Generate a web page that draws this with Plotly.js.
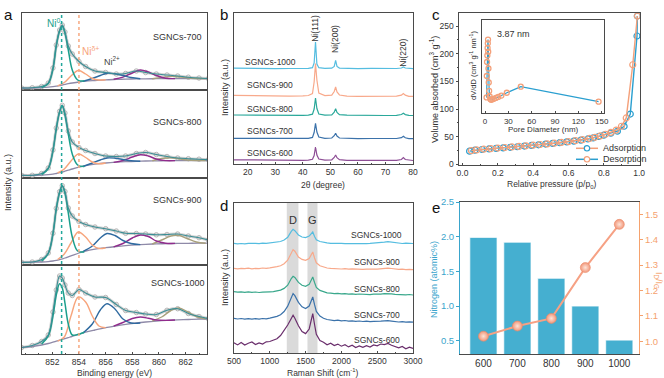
<!DOCTYPE html>
<html><head><meta charset="utf-8">
<script src="https://cdn.plot.ly/plotly-3.0.1.min.js"></script>
<style>html,body{margin:0;padding:0;background:#fff}#chart{width:664px;height:378px}</style>
</head><body><div id="chart"></div>
<script>
// ================= DATA =================
const sampleNames = ['SGNCs-600','SGNCs-700','SGNCs-800','SGNCs-900','SGNCs-1000'];

// ---- (a) Ni 2p XPS ----
const xpsTicks = [852, 854, 856, 858, 860, 862];
const xpsRefEV = [852.7, 854.0];
const xpsEV = [849.7, 850.5, 851.2, 851.7, 852.05, 852.3, 852.55, 852.75, 852.95, 853.2, 853.5, 854.0, 854.5, 855.2, 856.0, 856.8, 857.5, 858.3, 859.0, 859.8, 860.6, 861.4, 862.2, 863.0, 863.7];
const env700 = [2, 2.3, 3.5, 7, 22, 45, 60, 65, 58, 44, 36, 28.5, 23.5, 19, 17.5, 16, 16.5, 19, 17.5, 16, 15, 14, 12.8, 12, 11.5];
const bg700  = [2, 2, 2.3, 2.8, 3.3, 3.8, 4.5, 5, 5.6, 6.3, 7, 8, 8.8, 9.5, 10.2, 10.6, 10.9, 11.1, 11.2, 11.3, 11.4, 11.4, 11.4, 11.4, 11.4];
const env800 = [2.7, 2.7, 4.5, 10, 28, 50, 66.7, 72.7, 65, 47, 36, 30.5, 27.5, 24.5, 22, 21.5, 22, 24.5, 25.5, 23.5, 21.5, 20, 19.3, 18.8, 18.3];
const bg800  = [2.7, 2.7, 2.9, 3.3, 3.8, 4.5, 5.3, 6, 6.8, 7.8, 9, 10.8, 12.3, 13.8, 15, 15.8, 16.3, 16.7, 17, 17.2, 17.3, 17.4, 17.5, 17.5, 17.5];
const env900 = [2.7, 3.0, 5.5, 12, 31.7, 56.7, 73.3, 79.3, 73.5, 57, 49, 43.5, 40.5, 38, 36.3, 34, 31.7, 31.5, 31, 30.2, 30.5, 31, 29, 27.3, 25];
const bg900  = [2.7, 2.8, 3.0, 3.4, 4, 4.6, 5.4, 6.2, 7, 8.2, 9.6, 12, 14, 15.8, 17.3, 18.5, 19.4, 20.2, 20.7, 21.1, 21.4, 21.6, 21.7, 21.8, 21.8];
const env1000 = [6.5, 8.5, 12.5, 19, 42, 64, 78, 76, 69, 61, 58.5, 64.5, 61, 57, 56.5, 49.5, 43.5, 41.5, 40, 39.5, 43.7, 45.3, 40.5, 37.5, 35.3];
const bg1000  = [6.5, 7.5, 9, 10.5, 11.8, 12.8, 13.8, 14.6, 15.4, 16.4, 17.6, 19.8, 21.8, 24, 26.3, 28.2, 29.6, 31, 32, 32.9, 33.6, 34.1, 34.5, 34.8, 35];

const ni0EV = [851.2, 851.7, 852.05, 852.3, 852.55, 852.75, 852.95, 853.2, 853.5, 853.9, 854.4];
const ni0Y700  = [2.5, 6.5, 21, 44, 59, 64, 57, 40, 20, 10, 9];
const ni0Y800  = [3.5, 9.5, 27, 49, 66, 72, 63, 44, 24, 13, 11.5];
const ni0Y900  = [4, 11.5, 31, 56, 72.5, 79, 72, 52, 28, 14, 13];
const ni0Y1000 = [10, 18, 38, 59, 70.3, 66, 51, 30, 19, 19.5, 21.8];

const nidEV = [852.4, 852.9, 853.4, 853.95, 854.5, 855.0, 855.5, 856.0];
const nidY700  = [4.2, 7.5, 14, 19.5, 16, 11.5, 10, 10.2];
const nidY800  = [5, 9, 17, 24, 20.5, 16, 14.2, 15];
const nidY900  = [5.5, 11, 22, 33, 28, 20, 16.5, 17.3];
const nidY1000 = [12.8, 17, 38, 57, 52, 38, 28, 26.3];

const ni2EV = [854.3, 855.0, 855.6, 856.1, 856.7, 857.3, 857.9, 858.6];
const ni2Y700  = [8.6, 11.5, 14.5, 16.8, 16.3, 14.5, 12.5, 11.2];
const ni2Y800  = [11.5, 15, 18, 20, 19.8, 18.5, 17.2, 16.7];
const ni2Y900  = [13.5, 19, 27, 31.5, 29.5, 24.5, 21.5, 20.4];
const ni2Y1000 = [21, 30, 44, 50.3, 45, 35, 31, 31];

const satEV = [856.6, 857.3, 858.0, 858.6, 859.2, 859.8, 860.5, 861.2];
const satY700  = [10.8, 12.8, 17, 20, 18, 14.5, 11.8, 11.4];
const satY800  = [15.6, 17.5, 21, 23.3, 22, 19, 17.4, 17.4];
const satY900  = [18.2, 21.5, 27, 30, 28.5, 24, 21.8, 21.6];
const satY1000 = [27.8, 31.5, 35.5, 37, 35.8, 34, 33.6, 34];

const sat2EV = [859.5, 860.2, 860.9, 861.5, 862.1, 862.8, 863.5];
const sat2Y700  = [11.3, 12.6, 13.6, 13.2, 12.2, 11.5, 11.4];
const sat2Y800  = [17.3, 19.5, 20.3, 19.2, 18, 17.5, 17.5];
const sat2Y900  = [21, 25, 29, 29.5, 26.5, 23, 21.8];
const sat2Y1000 = [33, 37, 43.5, 46, 42.5, 37.5, 35.2];

// ---- (b) XRD ----
const xrdPeakLabels = ['Ni(111)', 'Ni(200)', 'Ni(220)'];
const xrdPeakPos = [44.6, 51.9, 76.5];
const xrdX = [15, 20, 25, 30, 35, 40, 42, 43.5, 44.1, 44.6, 45.1, 45.8, 48, 50.5, 51.4, 51.9, 52.4, 53.3, 56, 60, 65, 70, 74, 75.8, 76.5, 77.2, 78.5, 80];
const xrd600  = [4.2, 4.0, 4.3, 3.9, 3.8, 3.7, 3.9, 4.7, 8.5, 17, 9, 5, 3.9, 4.2, 6.5, 9, 6.3, 4.3, 3.7, 3.6, 3.7, 3.5, 3.7, 4.5, 6.5, 4.5, 3.7, 3.5];
const xrd700  = [25.6, 25.5, 25.7, 25.4, 25.6, 25.5, 25.7, 26.6, 31.5, 40.7, 32, 27, 25.7, 26, 28.3, 30.7, 28, 26, 25.5, 25.4, 25.5, 25.3, 25.5, 26.3, 27.7, 26.2, 25.4, 25.3];
const xrd800  = [49.0, 48.8, 49.0, 48.6, 48.8, 48.7, 48.9, 49.8, 55, 66, 55.5, 50, 48.9, 49.2, 51.8, 55.4, 51.5, 49.3, 48.8, 48.6, 48.7, 48.5, 48.7, 49.5, 50.7, 49.4, 48.6, 48.5];
const xrd900  = [68.6, 68.3, 68.5, 68.0, 67.9, 68.1, 68.5, 70.5, 82, 100.4, 84, 71, 68.4, 68.8, 72.5, 77, 72, 69, 67.8, 67.6, 67.7, 67.5, 67.8, 68.8, 70.4, 68.9, 67.7, 67.6];
const xrd1000 = [95.8, 95.5, 95.6, 95.3, 95.5, 95.4, 95.6, 96.3, 101, 122, 100, 96.3, 95.7, 95.8, 97.5, 103.7, 97.5, 95.9, 95.5, 95.4, 95.6, 95.3, 95.5, 96, 97, 96, 95.5, 95.4];

// ---- (c) N2 isotherm + pore size ----
const adsP = [0.04, 0.07, 0.11, 0.15, 0.19, 0.23, 0.27, 0.31, 0.35, 0.39, 0.43, 0.47, 0.51, 0.55, 0.59, 0.63, 0.67, 0.71, 0.74, 0.77, 0.80, 0.84, 0.877, 0.915, 0.95, 0.988, 0.99];
const adsV = [24, 25.8, 27, 28, 29, 30, 31, 32, 33.2, 34.3, 35.5, 36.8, 38, 39.3, 40.7, 42.2, 44, 46, 48, 50.5, 53, 56.5, 60, 69, 91, 232, 268];
const desP = [0.99, 0.964, 0.927, 0.9, 0.87, 0.84, 0.81, 0.78, 0.75, 0.72, 0.68, 0.64, 0.6, 0.56, 0.52, 0.48, 0.44, 0.4, 0.36, 0.32, 0.28, 0.24, 0.2, 0.16, 0.12, 0.08, 0.05];
const desV = [268, 180, 84, 69, 62, 58, 54.5, 51.5, 49, 47, 44.8, 43, 41.3, 39.8, 38.4, 37.2, 36, 34.8, 33.7, 32.6, 31.6, 30.6, 29.6, 28.6, 27.5, 26.3, 25];
const poreD = [2.0, 2.3, 2.6, 3.0, 3.3, 3.6, 3.87, 4.1, 4.4, 4.8, 5.3, 6.0, 7.0, 8.0, 9.5, 11.5, 14, 17, 21, 28, 46, 146];
const dVdD  = [17, 40, 55, 62, 70, 75, 79, 66, 48, 33, 24, 18, 15, 14.5, 15, 15.5, 16.5, 17.5, 19, 22, 28.5, 12.5];
const isoLegend = ['Adsorption', 'Desorption'];

// ---- (d) Raman ----
const ramanBands = [[1237, 1400], [1526, 1666]];
const ramanBandLabels = ['D', 'G'];
const ramanBandPos = [1320, 1600];
const ramanX = [500,550,600,650,700,750,800,850,900,950,1000,1050,1100,1150,1200,1250,1300,1325,1350,1400,1450,1500,1550,1580,1600,1625,1650,1700,1750,1800,1850,1900,1950,2000,2050,2100,2150,2200,2250,2300,2350,2400,2450,2500,2550,2600,2650,2700,2750,2800,2850,2900,2950,3000];
const raman1000 = [109.6,109.1,109.5,109.2,109.7,109.3,109.6,109.4,109.9,109.6,110.1,110.2,110.8,111.5,113.0,115.7,121.6,123.7,122.3,118.0,116.0,115.4,116.9,119.4,121.0,116.5,113.2,111.5,110.6,110.1,109.7,109.9,109.4,109.7,109.3,109.6,109.2,109.5,109.3,109.7,109.4,109.6,109.8,110.0,110.4,110.9,111.4,110.8,110.2,109.7,109.5,109.8,109.3,109.5];
const raman900 = [84.6,84.1,84.7,84.3,84.8,84.2,84.6,84.4,85.0,84.7,85.2,85.5,86.4,87.2,89.3,92.8,100.5,103.4,101.8,96.0,93.6,92.7,94.5,98.2,101.0,95.0,90.2,87.3,85.9,85.0,84.6,84.2,84.5,84.0,84.3,83.8,84.1,83.7,84.0,83.6,83.9,83.5,83.8,83.9,84.3,84.6,84.9,84.5,84.0,83.6,83.9,83.4,83.7,83.3];
const raman800 = [61.3,60.8,61.2,60.7,61.1,60.6,61.0,60.5,60.9,60.7,61.2,61.3,62.0,62.9,64.6,67.8,74.5,76.7,75.5,70.6,67.8,66.7,68.6,72.7,76.0,70.5,65.6,62.6,61.0,60.1,59.8,59.3,59.6,59.1,59.4,58.9,59.2,58.7,59.0,58.6,58.9,58.4,58.8,58.5,58.9,59.3,59.5,59.1,58.6,58.3,58.7,58.2,58.5,58.0];
const raman700 = [34.6,34.0,34.5,33.9,34.4,33.8,34.3,33.9,34.5,34.2,34.9,35.4,36.6,38.2,41.5,46.8,56.3,59.4,57.4,50.6,46.2,44.4,47.0,52.5,56.0,48.3,41.6,37.0,34.8,33.5,32.9,32.4,32.8,32.1,32.5,31.8,32.2,31.6,32.0,31.5,31.9,31.3,31.7,31.4,31.8,32.1,32.4,31.9,31.4,31.0,31.4,30.8,31.2,30.9];
const raman600 = [10.2,8.1,10.6,7.9,9.8,11.0,8.4,10.1,9.0,11.2,11.5,13.0,14.2,17.5,22.6,28.0,34.5,37.7,34.8,27.2,21.5,19.4,24.0,33.5,39.4,28.5,18.7,12.4,10.8,8.2,9.7,7.4,8.9,6.8,8.3,6.1,7.8,5.4,7.0,5.6,7.3,6.0,8.1,7.2,9.0,8.4,9.6,7.7,6.4,5.1,6.6,4.3,5.9,4.6];

// ---- (e) N content & ID/IG ----
const eTemps = [600, 700, 800, 900, 1000];
const nitrogen = [1.99, 1.92, 1.40, 1.00, 0.51];
const idig = [1.02, 1.06, 1.09, 1.29, 1.46];

// ================= STYLE / HELPERS =================
const FONT = 'Liberation Sans, Arial, Helvetica, sans-serif';
const W = 664, H = 378;
const px = X => X / W;
const py = Y => 1 - Y / H;
const C = {
  teal: '#1b9e8c', orange: '#f7a57c', blue: '#2f6aa0', purple: '#902c8c', olive: '#a8a07c',
  bg: '#8f8aa8', env: '#3a8e95', data: '#a8a8a8',
  s1000: '#55bde0', s900: '#f8a98b', s800: '#2aa89a', s700: '#3b72aa', s600: '#8e4e96',
  r800: '#3aa88c', r600: '#6a2e6c',
  cOr: '#f4a07a', cBl: '#2a9fd0', eBar: '#45afd0', eLine: '#f6a184', eBlue: '#3aa5cc', eOr: '#f5a26e'
};
const traces = [];
function line(x, y, xa, ya, color, width, shape, extra) {
  traces.push(Object.assign({type: 'scatter', mode: 'lines', x: x, y: y, xaxis: xa, yaxis: ya,
    line: {color: color, width: width, shape: shape || 'linear', smoothing: 1}, hoverinfo: 'skip', showlegend: false}, extra || {}));
}

// (a) XPS panels
const xpsPanels = [
  {xa: 'x4', ya: 'y4', env: env700, bg: bg700, ni0: ni0Y700, nid: nidY700, ni2: ni2Y700, sat: satY700, sat2: sat2Y700},
  {xa: 'x3', ya: 'y3', env: env800, bg: bg800, ni0: ni0Y800, nid: nidY800, ni2: ni2Y800, sat: satY800, sat2: sat2Y800},
  {xa: 'x2', ya: 'y2', env: env900, bg: bg900, ni0: ni0Y900, nid: nidY900, ni2: ni2Y900, sat: satY900, sat2: sat2Y900},
  {xa: 'x',  ya: 'y',  env: env1000, bg: bg1000, ni0: ni0Y1000, nid: nidY1000, ni2: ni2Y1000, sat: satY1000, sat2: sat2Y1000}
];
xpsPanels.forEach(p => {
  line(xpsEV, p.env, p.xa, p.ya, 'rgba(175,175,175,0.55)', 3, 'spline',
       {mode: 'lines+markers', marker: {symbol: 'circle-open', size: 4.5, color: C.data, line: {width: 0.8}}});
  line(xpsEV, p.bg, p.xa, p.ya, C.bg, 1.3, 'spline');
  line(sat2EV, p.sat2, p.xa, p.ya, C.olive, 1.4, 'spline');
  line(satEV, p.sat, p.xa, p.ya, C.purple, 1.4, 'spline');
  line(ni2EV, p.ni2, p.xa, p.ya, C.blue, 1.4, 'spline');
  line(nidEV, p.nid, p.xa, p.ya, C.orange, 1.4, 'spline');
  line(ni0EV, p.ni0, p.xa, p.ya, C.teal, 1.5, 'spline');
  line(xpsEV, p.env, p.xa, p.ya, C.env, 1.1, 'spline');
});

// (b) XRD
[[xrd600, C.s600], [xrd700, C.s700], [xrd800, C.s800], [xrd900, C.s900], [xrd1000, C.s1000]]
  .forEach(d => line(xrdX, d[0], 'x5', 'y5', d[1], 1.2));

// (c) isotherm
line(adsP, adsV, 'x6', 'y6', C.cBl, 1.4, 'linear', {mode: 'lines+markers', marker: {symbol: 'circle-open', size: 6, color: C.cBl, line: {width: 1.2}}});
line(desP, desV, 'x6', 'y6', C.cOr, 1.4, 'linear', {mode: 'lines+markers', marker: {symbol: 'circle-open', size: 6, color: C.cOr, line: {width: 1.2}}});
// inset
line(poreD, dVdD, 'x7', 'y7', C.cBl, 1.2, 'linear', {mode: 'lines+markers', marker: {symbol: 'circle-open', size: 5, color: C.cOr, line: {width: 1.3}}});

// (d) Raman
[[raman600, C.r600], [raman700, C.s700], [raman800, C.r800], [raman900, C.s900], [raman1000, C.s1000]]
  .forEach(d => line(ramanX, d[0], 'x8', 'y8', d[1], 1.2));

// (e)
traces.push({type: 'bar', x: eTemps, y: nitrogen, width: 80, xaxis: 'x9', yaxis: 'y9',
  marker: {color: C.eBar, line: {color: 'rgba(255,255,255,0.7)', width: 1}}, hoverinfo: 'skip', showlegend: false});
traces.push({type: 'scatter', mode: 'lines+markers', x: eTemps, y: idig, xaxis: 'x9', yaxis: 'y10',
  line: {color: C.eLine, width: 2}, marker: {size: 10, color: '#f2977a', gradient: {type: 'radial', color: '#fde4d8'}, line: {color: '#e98a68', width: 0.6}},
  hoverinfo: 'skip', showlegend: false});

// ================= AXES =================
const TF = {size: 8.5, color: '#333', family: FONT};
const BASE = {showline: true, mirror: true, linecolor: '#4a4a4a', linewidth: 1, zeroline: false, showgrid: false,
  fixedrange: true, ticks: '', showticklabels: false, tickfont: TF, tickcolor: '#4a4a4a'};
const ax = o => Object.assign({}, BASE, o);
const aX = [px(22), px(207)];

const layout = {
  width: W, height: H, margin: {l: 0, r: 0, t: 0, b: 0}, paper_bgcolor: '#fff', plot_bgcolor: 'rgba(0,0,0,0)',
  showlegend: false, font: {family: FONT, size: 9, color: '#333'},
  xaxis:  ax({domain: aX, range: [849.73, 863.6], anchor: 'y', ticks: 'inside', ticklen: 2.5, showticklabels: true,
              tickmode: 'array', tickvals: xpsTicks, minor: {ticks: 'inside', ticklen: 1.5, tickmode: 'linear', tick0: 850, dtick: 1}}),
  yaxis:  ax({domain: [py(354), py(265)], range: [0, 89], anchor: 'x'}),
  xaxis2: ax({domain: aX, matches: 'x', anchor: 'y2'}),
  yaxis2: ax({domain: [py(265), py(178)], range: [0, 87], anchor: 'x2'}),
  xaxis3: ax({domain: aX, matches: 'x', anchor: 'y3'}),
  yaxis3: ax({domain: [py(178), py(90)], range: [0, 88], anchor: 'x3'}),
  xaxis4: ax({domain: aX, matches: 'x', anchor: 'y4'}),
  yaxis4: ax({domain: [py(90), py(13)], range: [0, 77], anchor: 'x4'}),

  xaxis5: ax({domain: [px(234), px(413)], range: [15, 80], anchor: 'y5', ticks: 'inside', ticklen: 2.5, showticklabels: true,
              tickmode: 'linear', tick0: 20, dtick: 10, minor: {ticks: 'inside', ticklen: 1.5, dtick: 5, tick0: 15}}),
  yaxis5: ax({domain: [py(164), py(13)], range: [0, 151], anchor: 'x5'}),

  xaxis6: ax({domain: [px(459), px(640)], range: [-0.02, 1.005], anchor: 'y6', ticks: 'inside', ticklen: 2.5, showticklabels: true,
              tickmode: 'linear', tick0: 0, dtick: 0.2, tickformat: '.1f', minor: {ticks: 'inside', ticklen: 1.5, dtick: 0.1, tick0: 0}}),
  yaxis6: ax({domain: [py(165), py(13)], range: [-1, 273.5], anchor: 'x6', ticks: 'outside', ticklen: 2.5, showticklabels: true,
              tickmode: 'linear', tick0: 0, dtick: 50, minor: {ticks: 'outside', ticklen: 1.5, dtick: 25, tick0: 0}}),
  xaxis7: ax({domain: [px(482.3), px(604)], range: [-3.5, 153], anchor: 'y7', ticks: 'inside', ticklen: 2, showticklabels: true,
              tickmode: 'linear', tick0: 0, dtick: 30, tickfont: {size: 8, color: '#333', family: FONT}}),
  yaxis7: ax({domain: [py(113.3), py(20)], range: [0, 100], anchor: 'x7'}),

  xaxis8: ax({domain: [px(234), px(413)], range: [500, 3000], anchor: 'y8', ticks: 'inside', ticklen: 2.5, showticklabels: true,
              tickmode: 'linear', tick0: 500, dtick: 500, minor: {ticks: 'inside', ticklen: 1.5, dtick: 250, tick0: 500}}),
  yaxis8: ax({domain: [py(353), py(203)], range: [0, 150], anchor: 'x8'}),

  xaxis9: ax({domain: [px(460), px(639)], range: [531, 1058], anchor: 'y9', showticklabels: true, tickmode: 'array', tickvals: eTemps,
              tickfont: {size: 10, color: '#333', family: FONT}}),
  yaxis9: ax({domain: [py(354), py(202)], range: [0.31, 2.5], anchor: 'x9', mirror: false, linecolor: C.eBlue, tickcolor: C.eBlue,
              ticks: 'outside', ticklen: 3, showticklabels: true, tickmode: 'linear', tick0: 0.5, dtick: 0.5, tickformat: '.1f',
              tickfont: {size: 9.5, color: C.eBlue, family: FONT}}),
  yaxis10: ax({domain: [py(354), py(202)], range: [0.95, 1.548], anchor: 'x9', overlaying: 'y9', side: 'right', mirror: false,
              linecolor: C.eOr, tickcolor: C.eOr, ticks: 'outside', ticklen: 3, showticklabels: true, tickmode: 'linear', tick0: 1.0, dtick: 0.1,
              tickformat: '.1f', tickfont: {size: 9.5, color: C.eOr, family: FONT}})
};

// ================= SHAPES =================
const shapes = [];
xpsRefEV.forEach((ev, i) => shapes.push({type: 'line', xref: 'x', yref: 'paper', x0: ev, x1: ev, y0: py(354), y1: py(13),
  line: {color: i === 0 ? '#22a79c' : '#f7a880', width: 1.5, dash: 'dot'}, layer: 'above'}));
ramanBands.forEach(b => shapes.push({type: 'rect', xref: 'x8', yref: 'y8 domain', x0: b[0], x1: b[1], y0: 0, y1: 1,
  fillcolor: '#dadada', line: {width: 0}, layer: 'below'}));
// manual legend samples for (c)
[[148.3, C.cOr, C.cBl], [159.3, C.cBl, C.cOr]].forEach(r => {
  shapes.push({type: 'line', xref: 'paper', yref: 'paper', x0: px(576), x1: px(598), y0: py(r[0]), y1: py(r[0]), line: {color: r[1], width: 1.5}});
  shapes.push({type: 'circle', xref: 'paper', yref: 'paper', x0: px(584.3), x1: px(589.7), y0: py(r[0] + 2.7), y1: py(r[0] - 2.7),
    fillcolor: '#fff', line: {color: r[2], width: 1.2}});
});
layout.shapes = shapes;

// ================= ANNOTATIONS =================
const ann = [];
function pa(text, X, Y, o) {
  ann.push(Object.assign({text: text, xref: 'paper', yref: 'paper', x: px(X), y: py(Y), showarrow: false,
    xanchor: 'center', yanchor: 'middle', font: {family: FONT, size: 9, color: '#333'}}, o || {}));
}
function da(text, xa, ya, x, y, o) {
  ann.push(Object.assign({text: text, xref: xa, yref: ya, x: x, y: y, showarrow: false,
    xanchor: 'center', yanchor: 'middle', font: {family: FONT, size: 9, color: '#333'}}, o || {}));
}
const F85 = {family: FONT, size: 8.5, color: '#333'};
// panel letters
[['a', 8, 15], ['b', 224, 15], ['c', 436, 15], ['d', 224, 205], ['e', 436, 207]]
  .forEach(l => pa(l[0], l[1], l[2], {font: {family: FONT, size: 15, color: '#111'}}));
// axis titles
pa('Intensity (a.u.)', 8, 183, {textangle: -90});
pa('Binding energy (eV)', 115, 373, {font: F85});
pa('Intensity (a.u.)', 225, 88, {textangle: -90});
pa('2θ (degree)', 323, 184.5, {font: F85});
pa('Volume absorbed (cm<sup>3</sup> g<sup>-1</sup>)', 434, 90, {textangle: -90});
pa('Relative pressure (p/p<sub>0</sub>)', 551, 184.5, {font: F85});
pa('Intensity (a.u.)', 225, 278, {textangle: -90});
pa('Raman Shift (cm<sup>-1</sup>)', 323, 372.5, {font: F85});
pa('Nitrogen (atomic%)', 434, 280, {textangle: -90, font: {family: FONT, size: 9, color: C.eBlue}});
pa('I<sub>D</sub>/I<sub>G</sub>', 659, 280, {textangle: 90, font: {family: FONT, size: 9, color: C.eOr}});
pa('dV/dD (cm<sup>3</sup> g<sup>-1</sup> nm<sup>-1</sup>)', 473, 66, {textangle: -90, font: {family: FONT, size: 7.5, color: '#333'}});
pa('Pore Diameter (nm)', 543, 129.5, {font: {family: FONT, size: 8, color: '#333'}});
pa('3.87 nm', 513, 34);
// legend text (c)
pa(isoLegend[0], 601, 148.3, {xanchor: 'left'});
pa(isoLegend[1], 601, 159.3, {xanchor: 'left'});
// (a) labels
da(sampleNames[1], 'x4', 'y4', 861.4, 53);
da(sampleNames[2], 'x3', 'y3', 861.4, 56);
da(sampleNames[3], 'x2', 'y2', 861.4, 65);
da(sampleNames[4], 'x', 'y', 861.4, 71.3);
da('Ni<sup>0</sup>', 'x4', 'y4', 852.08, 67.5, {font: {family: FONT, size: 10, color: C.teal}});
da('Ni<sup>δ+</sup>', 'x4', 'y4', 854.9, 39, {font: {family: FONT, size: 10, color: C.orange}});
da('Ni<sup>2+</sup>', 'x4', 'y4', 856.5, 29, {font: {family: FONT, size: 9, color: '#444'}});
// (b) labels
[[0, 11], [1, 32.7], [2, 54.7], [3, 78.7], [4, 102]].forEach(s => da(sampleNames[s[0]], 'x5', 'y5', 28.1, s[1], {font: F85}));
[[0, 135.7], [1, 124.7], [2, 111.7]].forEach(s => da(xrdPeakLabels[s[0]], 'x5', 'y5', xrdPeakPos[s[0]], s[1], {textangle: -90, font: F85}));
// (d) labels
[[0, 12.7], [1, 37.7], [2, 64.4], [3, 91], [4, 117.7]].forEach(s => da(sampleNames[s[0]], 'x8', 'y8', 2497, s[1], {font: F85}));
ramanBandLabels.forEach((t, i) => da(t, 'x8', 'y8', ramanBandPos[i], 133.4, {font: {family: FONT, size: 11, color: '#333'}}));
layout.annotations = ann;

Plotly.newPlot('chart', traces, layout, {staticPlot: true, displayModeBar: false});
</script>
</body></html>
